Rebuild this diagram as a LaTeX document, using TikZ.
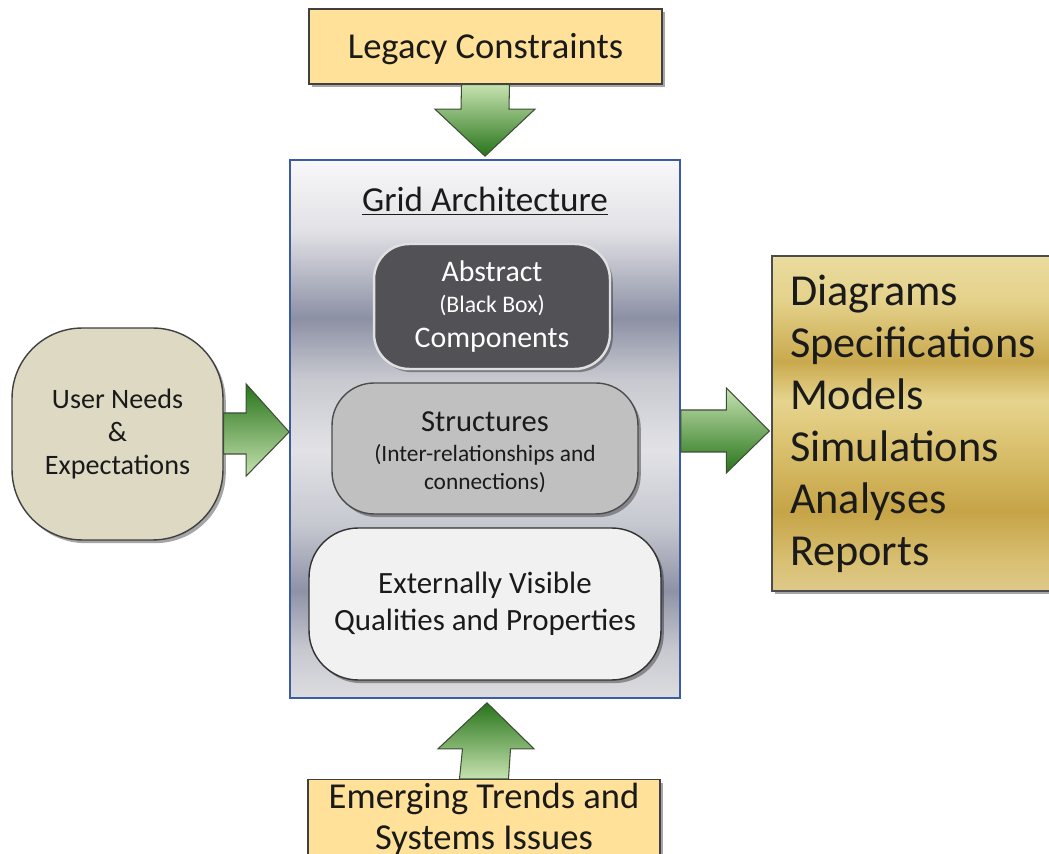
\documentclass[tikz,border=0pt]{standalone}
\usepackage{fontspec}
\setmainfont{Carlito}
\usetikzlibrary{shadows,calc}

% palette
\definecolor{ink}{HTML}{1A1A1A}
\definecolor{sandfill}{HTML}{FFE199}
\definecolor{beigefill}{HTML}{DDD9C3}
\definecolor{darkfill}{HTML}{515156}
\definecolor{midfill}{HTML}{C0C0C0}
\definecolor{lightfill}{HTML}{F1F1F1}
\definecolor{frameblue}{HTML}{3B5BA5}
\definecolor{greenlight}{HTML}{C6E2B0}
\definecolor{greendark}{HTML}{27741A}
\definecolor{greenedge}{HTML}{3E4E36}

% grey-blue banded panel
\definecolor{gA}{HTML}{DCDCE0}
\definecolor{gB}{HTML}{C8C9D0}
\definecolor{gC}{HTML}{8E92A6}
\definecolor{gD}{HTML}{C6C8D0}
\definecolor{gE}{HTML}{E2E2E6}
\definecolor{gF}{HTML}{C8C9D0}
\definecolor{gG}{HTML}{8C90A4}
\definecolor{gH}{HTML}{E2E2E6}
\definecolor{gI}{HTML}{F8F8FA}
\pgfdeclareverticalshading{panelshade}{100bp}{%
  color(0bp)=(gA); color(25bp)=(gA); color(29.4bp)=(gB); color(35bp)=(gC);
  color(41.1bp)=(gD); color(48bp)=(gE); color(54.6bp)=(gF); color(60.3bp)=(gG);
  color(68.5bp)=(gH); color(75bp)=(gI); color(100bp)=(gI)}

% gold banded deliverables box
\definecolor{oA}{HTML}{DEC98A}
\definecolor{oB}{HTML}{D8BF72}
\definecolor{oC}{HTML}{C6A447}
\definecolor{oD}{HTML}{D9BF6C}
\definecolor{oE}{HTML}{E6D48E}
\definecolor{oF}{HTML}{C9A94E}
\definecolor{oG}{HTML}{E4D18A}
\definecolor{oH}{HTML}{EADC9F}
\pgfdeclareverticalshading{goldshade}{100bp}{%
  color(0bp)=(oA); color(25bp)=(oA); color(29.5bp)=(oB); color(36.9bp)=(oC);
  color(45.9bp)=(oD); color(53.4bp)=(oE); color(59.3bp)=(oF); color(68.3bp)=(oG);
  color(75bp)=(oH); color(100bp)=(oH)}

\tikzset{
  softshadow/.style={drop shadow={shadow xshift=1.6pt, shadow yshift=-1.8pt, opacity=0.35, fill=black}},
  box/.style={draw=black!75, line width=0.8pt, align=center, inner sep=0pt, text=ink, softshadow},
  sandbox/.style={box, fill=sandfill, font=\fontsize{20.8}{23.3}\selectfont},
  caption/.style={align=center, inner sep=0pt, text=ink},
  blockarrow/.style={draw=greenedge, line width=0.6pt, line join=miter},
  lighttop/.style={blockarrow, top color=greenlight, bottom color=greendark},
  darktop/.style={blockarrow, top color=greendark, bottom color=greenlight},
}

\begin{document}
\begin{tikzpicture}[x=0.02cm, y=-0.02cm]
\useasboundingbox (0,0) rectangle (1049,854);

% outer architecture panel
\node[draw=frameblue, line width=1pt, shading=panelshade,
      minimum width=7.8cm, minimum height=10.76cm, inner sep=0pt] (grid) at (485,429) {};
\node[caption, font=\fontsize{20}{24}\selectfont] (title) at (485,201) {\underline{Grid Architecture}};

% inner layers
\node[box, draw=white!88!black, line width=1.4pt, fill=darkfill, text=white, rounded corners=20,
      minimum width=4.72cm, minimum height=2.5cm, font=\fontsize{17}{19}\selectfont] (abstract) at (492,306.5)
  {Abstract\\[-1pt]{\fontsize{13.5}{16}\selectfont (Black Box)}\\[1pt]Components};
\node[box, draw=black!70, fill=midfill, rounded corners=24,
      minimum width=6.12cm, minimum height=2.62cm] (structures) at (485,448.5) {};
\node[caption, font=\fontsize{17.4}{19}\selectfont, yshift=-2pt] (structurestxt) at (structures.center)
  {Structures\\[-1.7pt]{\fontsize{13.3}{16}\selectfont (Inter-relationships and}\\[-3.4pt]{\fontsize{13.3}{16}\selectfont connections)}};
\node[box, draw=black!80, fill=lightfill, rounded corners=28,
      minimum width=7.04cm, minimum height=3.04cm, font=\fontsize{17.6}{21}\selectfont] (qualities) at (485,604)
  {Externally Visible\\Qualities and Properties};

% inputs and outputs
\node[sandbox, minimum width=7.06cm, minimum height=1.5cm] (legacy) at (485.5,46.5) {};
\node[caption, font=\fontsize{20.8}{23.3}\selectfont, yshift=-1.7pt] (legacytxt) at (legacy.center) {Legacy Constraints};
\node[sandbox, minimum width=7.04cm, minimum height=1.58cm] (trends) at (484,819) {Emerging Trends and\\Systems Issues};
\node[box, fill=beigefill, rounded corners=40, minimum width=4.22cm, minimum height=4.24cm,
      font=\fontsize{16}{19}\selectfont] (needs) at (117.5,434) {User Needs\\\&\\Expectations};
\node[box, draw=black!70, shading=goldshade, align=left, inner xsep=0.36cm, text width=4.88cm,
      minimum height=6.7cm, font=\fontsize{25.2}{29.6}\selectfont] (outputs) at (912,423.5)
  {Diagrams\\Specifications\\Models\\Simulations\\Analyses\\Reports};

% block arrows
\draw[lighttop] ($(legacy.south)+(-24,0)$) -- ($(legacy.south)+(24,0)$) -- ($(grid.north)+(24,-50)$)
  -- ($(grid.north)+(50,-50)$) -- ($(grid.north)+(0,-3)$) -- ($(grid.north)+(-50,-50)$)
  -- ($(grid.north)+(-24,-50)$) -- cycle;
\draw[darktop] ($(trends.north)+(-24.5,0)$) -- ($(trends.north)+(24.5,0)$) -- ($(grid.south)+(25.5,50)$)
  -- ($(grid.south)+(49,50)$) -- ($(grid.south)+(2,4)$) -- ($(grid.south)+(-47,50)$)
  -- ($(grid.south)+(-22.5,50)$) -- cycle;

\coordinate (ltip) at (grid.west |- needs.east);
\draw[darktop] ($(needs.east)+(0,-21)$) -- ($(ltip)+(-43,-21)$) -- ($(ltip)+(-43,-50)$)
  -- ($(ltip)+(0,-2)$) -- ($(ltip)+(-43,42)$) -- ($(ltip)+(-43,20)$) -- ($(needs.east)+(0,20)$) -- cycle;

\coordinate (rtip) at ($(outputs.west |- grid.east)+(-2,2)$);
\draw[lighttop] ($(grid.east)+(0,-19)$) -- ($(rtip)+(-43,-21)$) -- ($(rtip)+(-43,-43)$)
  -- (rtip) -- ($(rtip)+(-43,42)$) -- ($(rtip)+(-43,21)$) -- ($(grid.east)+(0,23)$) -- cycle;
\end{tikzpicture}
\end{document}
